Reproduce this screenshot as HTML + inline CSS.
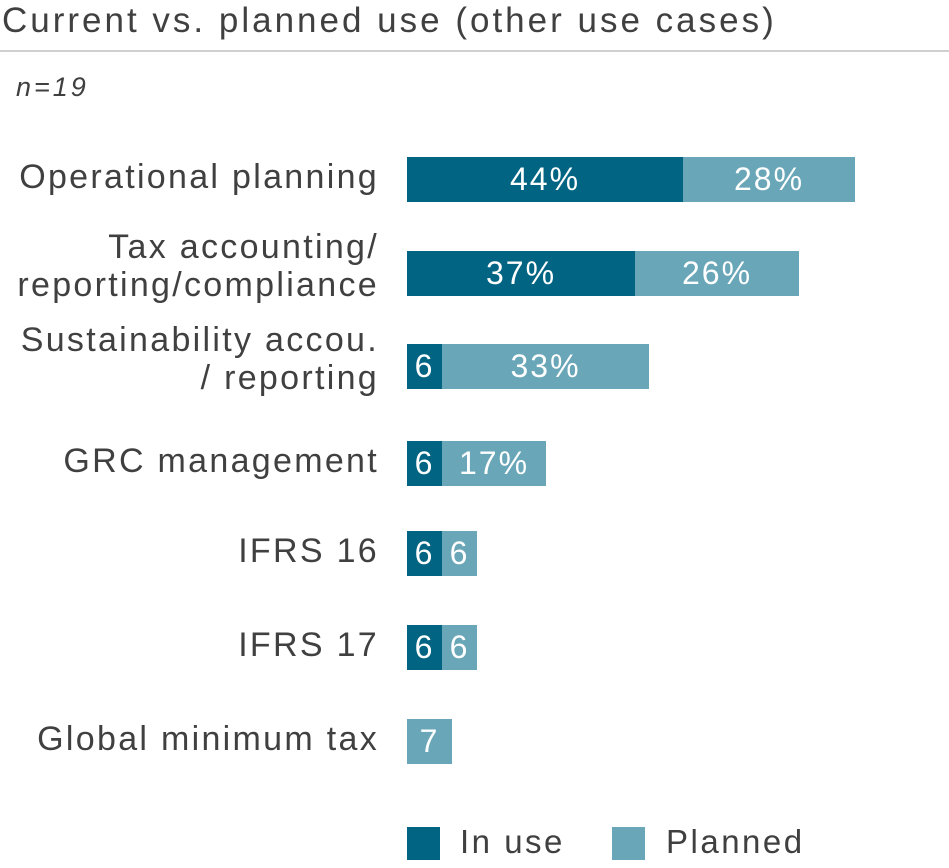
<!DOCTYPE html>
<html><head><meta charset="utf-8"><style>
body{margin:0;width:949px;height:868px;background:#fff;font-family:"Liberation Sans",sans-serif;color:#404040;position:relative;overflow:hidden}
.a{position:absolute;white-space:nowrap}
.t{left:2px;top:1px;font-size:35px;letter-spacing:3px}
.line{position:absolute;left:0;top:50px;width:949px;height:2px;background:#d0d0d0}
.n{left:16px;top:72px;font-size:27px;font-style:italic;letter-spacing:3px}
.l{right:570px;font-size:34px;text-align:right;line-height:38px;letter-spacing:2.3px}
.b{position:absolute;height:45px;color:#fff;font-size:32px;line-height:45px;text-align:center;overflow:visible;letter-spacing:2px}
.d{background:#006482}.p{background:#68a6b8}
.lg{font-size:33px;letter-spacing:2.5px}
</style></head><body>
<div class="a t">Current vs. planned use (other use cases)</div>
<div class="line"></div>
<div class="a n">n=19</div>

<div class="a l" style="top:158px">Operational planning</div>
<div class="a l" style="top:228px">Tax accounting/<br>reporting/compliance</div>
<div class="a l" style="top:321px">Sustainability accou.<br>/ reporting</div>
<div class="a l" style="top:442px">GRC management</div>
<div class="a l" style="top:532px">IFRS 16</div>
<div class="a l" style="top:626px">IFRS 17</div>
<div class="a l" style="top:720px">Global minimum tax</div>

<div class="b d" style="left:407px;top:157px;width:276px">44%</div>
<div class="b p" style="left:683px;top:157px;width:172px">28%</div>
<div class="b d" style="left:407px;top:251px;width:228px">37%</div>
<div class="b p" style="left:635px;top:251px;width:164px">26%</div>
<div class="b d" style="left:407px;top:344px;width:35px">6</div>
<div class="b p" style="left:442px;top:344px;width:207px">33%</div>
<div class="b d" style="left:407px;top:441px;width:35px">6</div>
<div class="b p" style="left:442px;top:441px;width:104px">17%</div>
<div class="b d" style="left:407px;top:531px;width:35px">6</div>
<div class="b p" style="left:442px;top:531px;width:35px">6</div>
<div class="b d" style="left:407px;top:625px;width:35px">6</div>
<div class="b p" style="left:442px;top:625px;width:35px">6</div>
<div class="b p" style="left:407px;top:719px;width:45px">7</div>

<div class="b d" style="left:407px;top:827px;width:33px;height:33px"></div>
<div class="a lg" style="left:460px;top:823px">In use</div>
<div class="b p" style="left:612px;top:827px;width:33px;height:33px"></div>
<div class="a lg" style="left:666px;top:823px">Planned</div>
</body></html>
